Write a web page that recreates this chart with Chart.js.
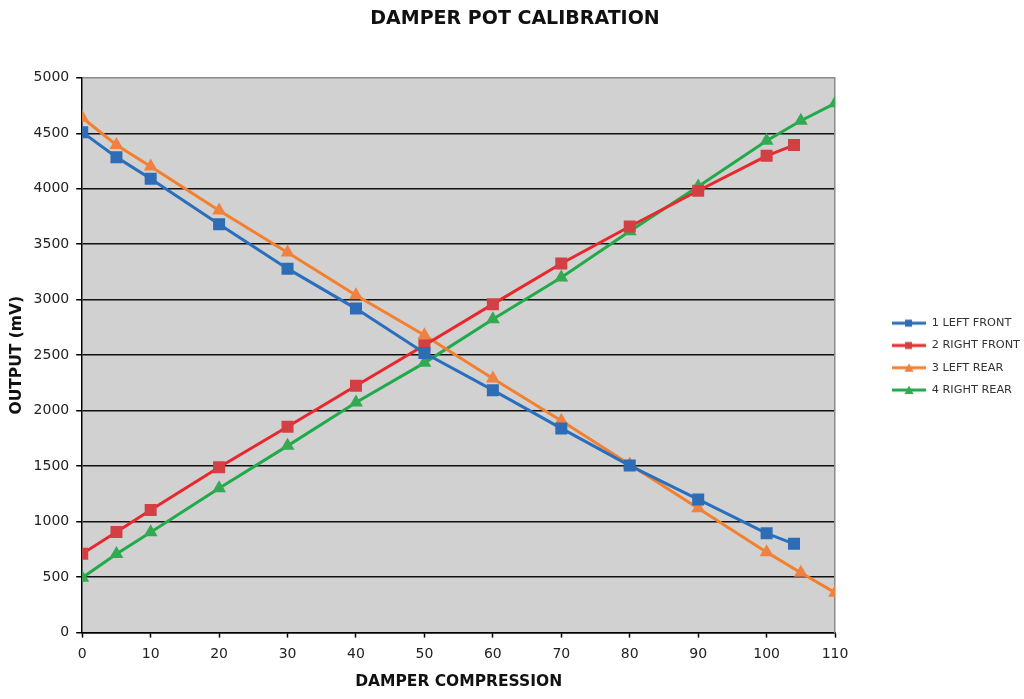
<!DOCTYPE html>
<html lang="en">
<head>
<meta charset="utf-8">
<title>Damper Pot Calibration</title>
<script src="https://cdn.jsdelivr.net/npm/chart.js@4.4.0/dist/chart.umd.min.js"></script>
<style>
    body { margin: 0; background: #fff; }
    .wrapper { width: 1024px; height: 699px; }
</style>
</head>
<body>
<div class="wrapper"><canvas id="myChart"></canvas></div>
<script>
    // compression steps for the front and rear pots
    var frontSteps = [0, 5, 10, 20, 30, 40, 50, 60, 70, 80, 90, 100, 104];
    var rearSteps = [0, 5, 10, 20, 30, 40, 50, 60, 70, 80, 90, 100, 105, 110];

    // output (mV)
    var leftFront = [4510, 4285, 4090, 3680, 3280, 2920, 2520, 2185, 1840, 1505, 1200, 895, 800];
    var rightFront = [710, 907, 1105, 1490, 1855, 2224, 2590, 2960, 3327, 3660, 3982, 4297, 4394];
    var leftRear = [4640, 4395, 4200, 3805, 3425, 3040, 2680, 2290, 1910, 1515, 1120, 725, 540, 360];
    var rightRear = [495, 708, 905, 1300, 1683, 2074, 2431, 2824, 3201, 3616, 4020, 4432, 4613, 4770];

    var seriesNames = ['1 LEFT FRONT', '2 RIGHT FRONT', '3 LEFT REAR', '4 RIGHT REAR'];
    var lineColors = ['#2a6fbe', '#e8282c', '#f2802e', '#22aa4a'];
    var markColors = ['#2e6db6', '#d24044', '#ef8240', '#34a852'];
    var shapes = ['rect', 'rect', 'triangle', 'triangle'];

    function pairs(xs, ys) {
        return xs.map(function (x, i) { return { x: x, y: ys[i] }; });
    }

    // little line + marker picture for the legend
    function legendIcon(line, mark, shape) {
        var c = document.createElement('canvas');
        c.width = 34; c.height = 10;
        var g = c.getContext('2d');
        g.strokeStyle = line; g.lineWidth = 3;
        g.beginPath(); g.moveTo(0, 5); g.lineTo(34, 5); g.stroke();
        g.fillStyle = mark;
        if (shape === 'rect') {
            g.fillRect(13, 1.5, 7, 7);
        } else {
            g.beginPath(); g.moveTo(17, 0.5); g.lineTo(21.5, 9); g.lineTo(12.5, 9); g.closePath(); g.fill();
        }
        return c;
    }

    var allData = [pairs(frontSteps, leftFront), pairs(frontSteps, rightFront), pairs(rearSteps, leftRear), pairs(rearSteps, rightRear)];
    var datasets = allData.map(function (d, i) {
        return {
            label: seriesNames[i],
            data: d,
            borderColor: lineColors[i],
            backgroundColor: markColors[i],
            borderWidth: 3,
            pointStyle: shapes[i],
            pointRadius: shapes[i] === 'rect' ? 8.5 : 8,
            pointBorderColor: markColors[i],
            pointBorderWidth: 0,
            pointBackgroundColor: markColors[i],
            tension: 0
        };
    });

    var chartAreaBg = {
        id: 'chartAreaBg',
        beforeDraw: function (chart) {
            var a = chart.chartArea, ctx = chart.ctx;
            ctx.save();
            ctx.fillStyle = '#d1d1d1';
            ctx.fillRect(a.left, a.top, a.right - a.left, a.bottom - a.top);
            ctx.restore();
        }
    };

    var ctx = document.getElementById('myChart').getContext('2d');
    var myChart = new Chart(ctx, {
        type: 'line',
        data: { datasets: datasets },
        plugins: [chartAreaBg],
        options: {
            responsive: true,
            maintainAspectRatio: false,
            animation: false,
            layout: { padding: { left: 0, right: -6, bottom: 8, top: 0 } },
            plugins: {
                title: {
                    display: true,
                    text: 'DAMPER POT CALIBRATION',
                    color: '#111',
                    font: { family: 'DejaVu Sans', size: 19, weight: 'bold' },
                    padding: { top: 8, bottom: 47 }
                },
                legend: {
                    position: 'right',
                    title: {
                        display: true,
                        text: ' ',
                        font: { size: 1 },
                        padding: { top: 0, bottom: 21 }
                    },
                    labels: {
                        usePointStyle: true,
                        pointStyleWidth: 34,
                        padding: 11,
                        color: '#333',
                        font: { family: 'DejaVu Sans', size: 11.3 },
                        generateLabels: function (chart) {
                            return chart.data.datasets.map(function (ds, i) {
                                return {
                                    text: ds.label,
                                    pointStyle: legendIcon(lineColors[i], markColors[i], shapes[i]),
                                    fillStyle: markColors[i],
                                    strokeStyle: lineColors[i],
                                    lineWidth: 0,
                                    fontColor: '#333',
                                    hidden: false,
                                    datasetIndex: i
                                };
                            });
                        }
                    }
                },
                tooltip: { enabled: false }
            },
            scales: {
                x: {
                    type: 'linear',
                    min: 0,
                    max: 110,
                    ticks: {
                        stepSize: 10,
                        color: '#222',
                        padding: 8,
                        font: { family: 'DejaVu Sans', size: 14 },
                        callback: function (v) { return String(v); }
                    },
                    grid: { drawOnChartArea: false, tickLength: 5, color: '#000', tickWidth: 1.5 },
                    border: { color: '#000', width: 1.5 },
                    title: {
                        display: true,
                        text: 'DAMPER COMPRESSION',
                        color: '#111',
                        font: { family: 'DejaVu Sans', size: 15.5, weight: 'bold' },
                        padding: { top: 2, bottom: 0 }
                    }
                },
                y: {
                    min: 0,
                    max: 5000,
                    ticks: {
                        stepSize: 500,
                        color: '#222',
                        padding: 7,
                        font: { family: 'DejaVu Sans', size: 14 },
                        callback: function (v) { return String(v); }
                    },
                    grid: {
                        color: function (c) { return c.tick && c.tick.value === 5000 ? '#8a8a8a' : '#111'; },
                        tickColor: '#000',
                        lineWidth: 1.5,
                        tickLength: 6
                    },
                    border: { color: '#000', width: 1.5 },
                    title: {
                        display: true,
                        text: 'OUTPUT (mV)',
                        color: '#111',
                        font: { family: 'DejaVu Sans', size: 15.5, weight: 'bold' },
                        padding: { top: 8, bottom: 0 }
                    }
                },
                y2: {
                    position: 'right',
                    min: 0,
                    max: 5000,
                    ticks: { display: false },
                    grid: { drawOnChartArea: false, drawTicks: false },
                    border: { color: '#8a8a8a', width: 1.5 },
                    afterFit: function (s) { s.width = 46; }
                }
            }
        }
    });
</script>
</body>
</html>
